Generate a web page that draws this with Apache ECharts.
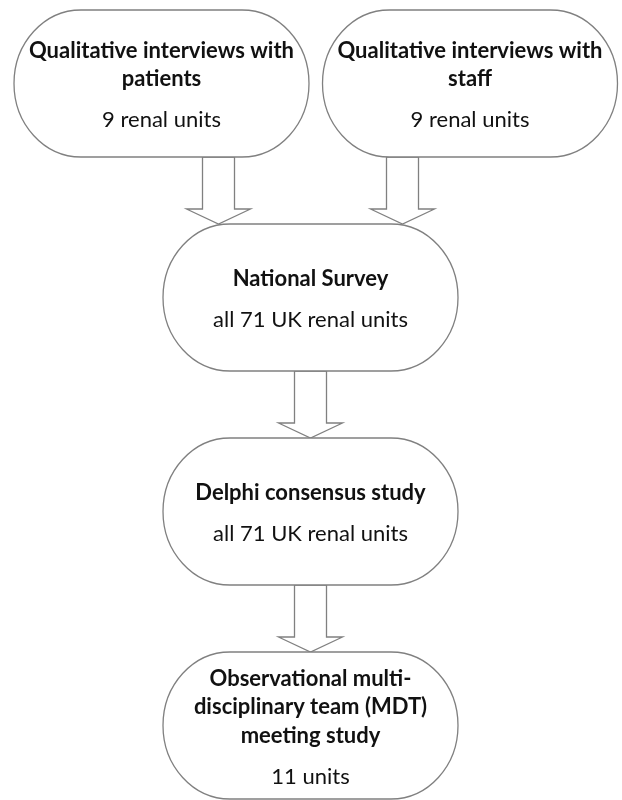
<!DOCTYPE html>
<html>
<head>
<meta charset="utf-8">
<script src="https://cdn.jsdelivr.net/npm/echarts@6/dist/echarts.min.js"></script>
<style>
html, body { margin: 0; padding: 0; background: #fff; }
#chart { width: 622px; height: 800px; }
</style>
</head>
<body>
<div id="chart"></div>
<script>
// flowchart content
const nodeTitles = [
    ['Qualitative interviews with', 'patients'],
    ['Qualitative interviews with', 'staff'],
    ['National Survey'],
    ['Delphi consensus study'],
    ['Observational multi-', 'disciplinary team (MDT)', 'meeting study']
];
const nodeUnits = ['9 renal units', '9 renal units', 'all 71 UK renal units', 'all 71 UK renal units', '11 units'];
const nodeLevel = [0, 0, 1, 2, 3];
const nodeColumn = [-1, 1, 0, 0, 0];
const links = [[0, 2], [1, 2], [2, 3], [3, 4]];

// layout (axis units = pixels)
const colX = {'-1': 161.5, '0': 310.5, '1': 470};
const rowTop = 10, rowStep = 214, boxW = 295, boxH = 147, cornerRx = 67;
const arrowSpread = 92;
const lineGap = 28.5, unitGap = 41;
const edgeColor = '#808080', textColor = '#111';
const font = 'Lato';

let boxData = nodeTitles.map(function (t, i) {
    return [colX[nodeColumn[i]], rowTop + nodeLevel[i] * rowStep + boxH / 2, i];
});
let arrowData = links.map(function (l) {
    let src = l[0], dst = l[1];
    let x = colX[nodeColumn[dst]] + nodeColumn[src] * arrowSpread;
    return [x, rowTop + nodeLevel[src] * rowStep + boxH, rowTop + nodeLevel[dst] * rowStep];
});

function renderBox(params, api) {
    let i = api.value(2);
    let tl = api.coord([api.value(0) - boxW / 2, api.value(1) - boxH / 2]);
    let br = api.coord([api.value(0) + boxW / 2, api.value(1) + boxH / 2]);
    let x = tl[0], y = tl[1], w = br[0] - tl[0], h = br[1] - tl[1];
    let ry = h / 2;
    let d = 'M' + (x + cornerRx) + ' ' + y +
        ' L' + (x + w - cornerRx) + ' ' + y +
        ' A' + cornerRx + ' ' + ry + ' 0 0 1 ' + (x + w - cornerRx) + ' ' + (y + h) +
        ' L' + (x + cornerRx) + ' ' + (y + h) +
        ' A' + cornerRx + ' ' + ry + ' 0 0 1 ' + (x + cornerRx) + ' ' + y + ' Z';
    let children = [{
        type: 'path',
        shape: {pathData: d},
        style: {fill: '#fff', stroke: edgeColor, lineWidth: 1.3}
    }];
    let lines = nodeTitles[i];
    let cx = x + w / 2;
    let first = y + h / 2 + 2 - ((lines.length - 1) * lineGap + unitGap) / 2;
    lines.forEach(function (s, k) {
        children.push({
            type: 'text',
            style: {
                text: s, x: cx, y: first + k * lineGap,
                align: 'center', verticalAlign: 'middle',
                fontFamily: font, fontWeight: 'bold', fontSize: 22, fill: textColor
            }
        });
    });
    children.push({
        type: 'text',
        style: {
            text: nodeUnits[i], x: cx, y: first + (lines.length - 1) * lineGap + unitGap,
            align: 'center', verticalAlign: 'middle',
            fontFamily: font, fontSize: 22, fill: textColor
        }
    });
    return {type: 'group', children: children};
}

function renderArrow(params, api) {
    let top = api.coord([api.value(0), api.value(1)]);
    let tip = api.coord([api.value(0), api.value(2)]);
    let x = top[0], y0 = top[1], y1 = tip[1];
    let sw = 16, hw = 32, hh = 15;
    return {
        type: 'polygon',
        shape: {points: [
            [x - sw, y0], [x + sw, y0], [x + sw, y1 - hh], [x + hw, y1 - hh],
            [x, y1], [x - hw, y1 - hh], [x - sw, y1 - hh]
        ]},
        style: {fill: '#fff', stroke: edgeColor, lineWidth: 1.3}
    };
}

let myChart = echarts.init(document.getElementById('chart'));
let option = {
    animation: false,
    grid: {left: 0, right: 0, top: 0, bottom: 0},
    xAxis: {type: 'value', min: 0, max: 622, show: false},
    yAxis: {type: 'value', min: 0, max: 800, inverse: true, show: false},
    series: [
        {type: 'custom', renderItem: renderArrow, data: arrowData, z: 1},
        {type: 'custom', renderItem: renderBox, data: boxData, z: 2}
    ]
};
myChart.setOption(option);
</script>
</body>
</html>
